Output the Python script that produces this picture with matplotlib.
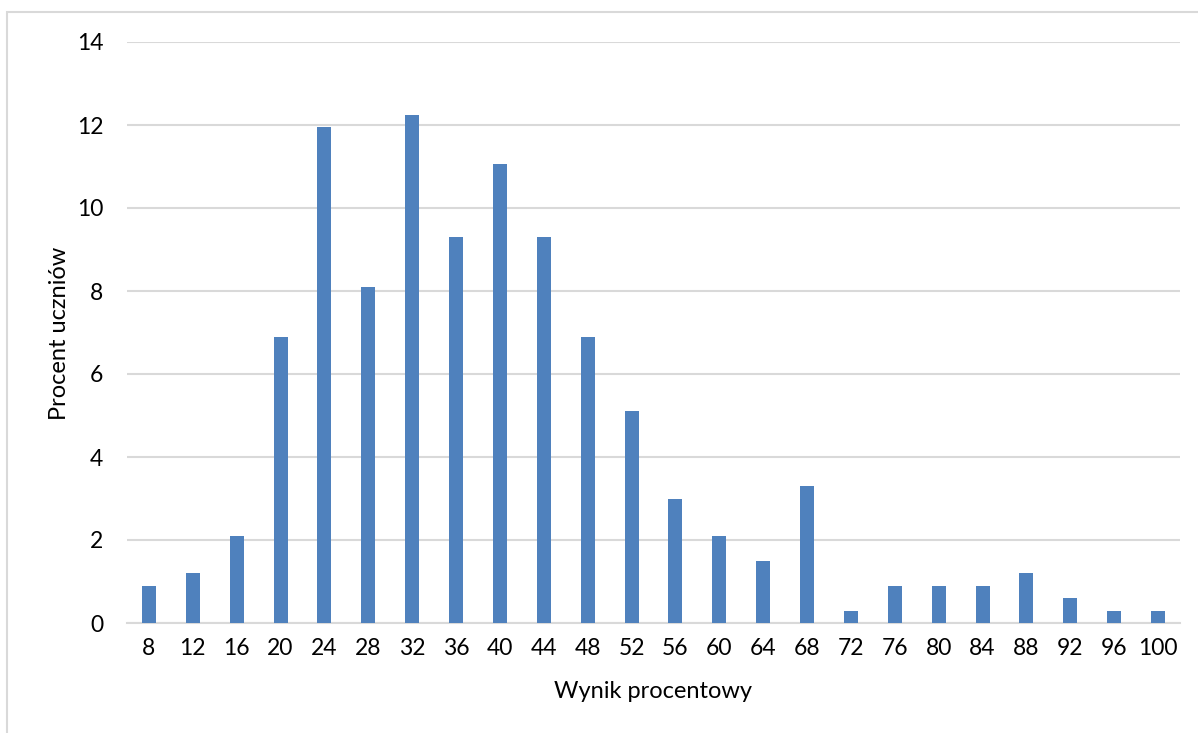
import matplotlib
matplotlib.use("Agg")
import matplotlib.pyplot as plt
from matplotlib.patches import Rectangle

categories = ["8", "12", "16", "20", "24", "28", "32", "36", "40", "44", "48", "52",
              "56", "60", "64", "68", "72", "76", "80", "84", "88", "92", "96", "100"]
values = [0.9, 1.2, 2.1, 6.9, 11.95, 8.1, 12.25, 9.3, 11.05, 9.3, 6.9, 5.1,
          3.0, 2.1, 1.5, 3.3, 0.3, 0.9, 0.9, 0.9, 1.2, 0.6, 0.3, 0.3]
yticks = [0, 2, 4, 6, 8, 10, 12, 14]

plt.rcParams['font.family'] = ['Lato', 'DejaVu Sans']

fig = plt.figure(figsize=(11.98, 7.33), dpi=100)
ax = fig.add_axes([127/1198, 1-623/733, (1180-127)/1198, (623-42)/733])

x = list(range(len(categories)))
ax.bar(x, values, width=0.32, color='#4f81bd', zorder=3)
ax.set_xlim(-0.5, len(categories)-0.5)
ax.set_ylim(0, 14)
ax.set_yticks(yticks)
ax.set_xticks(x)
ax.set_xticklabels(categories)
ax.grid(axis='y', color='#d9d9d9', linewidth=1.5, zorder=0)
for s in ['top', 'right', 'left']:
    ax.spines[s].set_visible(False)
ax.spines['bottom'].set_color('#d9d9d9')
ax.spines['bottom'].set_linewidth(1.5)
ax.tick_params(axis='both', length=0, labelsize=16.5, colors='#000000')
ax.tick_params(axis='x', pad=11)
ax.tick_params(axis='y', pad=17)

fig.text(653/1198, 1-692/733, 'Wynik procentowy', fontsize=17, ha='center', va='center')
fig.text(60/1198, 1-333/733, 'Procent uczniów', fontsize=17, ha='center', va='center',
         rotation=90)

fig.patches.append(Rectangle((7/1198, -0.1), 1.2, 1.1 - 12.5/733, transform=fig.transFigure,
                             fill=False, edgecolor='#d9d9d9', linewidth=1.5))

fig.savefig('out.png', dpi=100)
